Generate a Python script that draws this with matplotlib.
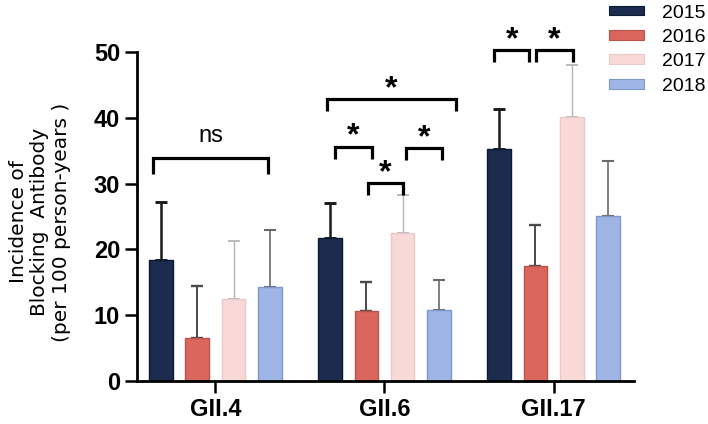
import matplotlib
matplotlib.use("Agg")
import matplotlib.pyplot as plt
from matplotlib.patches import Patch
import numpy as np

# ---- data ----
groups = ["GII.4", "GII.6", "GII.17"]
years = ["2015", "2016", "2017", "2018"]
means = {
    "2015": [18.4, 21.7, 35.3],
    "2016": [6.5, 10.6, 17.5],
    "2017": [12.4, 22.5, 40.1],
    "2018": [14.3, 10.8, 25.1],
}
upper = {  # top of error bar
    "2015": [27.2, 27.0, 41.3],
    "2016": [14.4, 15.0, 23.7],
    "2017": [21.2, 28.3, 48.0],
    "2018": [22.9, 15.4, 33.4],
}
# brackets: (group, bar_i, bar_j, height, label)
brackets = [
    (0, 0, 3, 33.9, "ns"),
    (1, 0, 3, 42.8, "*"),
    (1, 0, 1, 35.6, "*"),
    (1, 2, 3, 35.4, "*"),
    (1, 1, 2, 30.1, "*"),
    (2, 0, 1, 50.3, "*"),
    (2, 1, 2, 50.3, "*"),
]
# small horizontal end adjustments of brackets (data units)
bracket_adj = [(-0.047, -0.012), (-0.019, 0.097), (0.03, 0.032), (0.017, 0.019),
               (0.009, 0.003), (-0.029, -0.035), (0.003, 0.006)]

colors = {"2015": "#1b2c4e", "2016": "#da665d", "2017": "#f9d8d8", "2018": "#9eb5e5"}
edges = {"2015": "#0e1a33", "2016": "#b9534c", "2017": "#e9c9c9", "2018": "#7f97c9"}
errc = {"2015": "#1a1a1a", "2016": "#4a4a4a", "2017": "#b5b5b5", "2018": "#6a6a6a"}
errw = {"2015": 1.8, "2016": 1.4, "2017": 1.0, "2018": 1.2}

fig = plt.figure(figsize=(7.08, 4.24), dpi=100)
ax = fig.add_axes([0.1935, 0.1021, 0.702, 0.775])

x = np.arange(len(groups))
pitch = 0.2154
width = 0.139
offsets = (np.arange(4) - 1.5) * pitch

for k, yr in enumerate(years):
    m = np.array(means[yr])
    up = np.array(upper[yr]) - m
    ax.bar(x + offsets[k], m, width, color=colors[yr], edgecolor=edges[yr],
           linewidth=1.0, zorder=2)
    ax.errorbar(x + offsets[k], m, yerr=[np.zeros_like(m), up], fmt="none",
                ecolor=errc[yr], elinewidth=errw[yr], capsize=4.3,
                capthick=errw[yr] + 0.3, zorder=1)

# significance brackets
for (g, i, j, h, lab), (al, ar) in zip(brackets, bracket_adj):
    x1 = g + offsets[i] + al
    x2 = g + offsets[j] + ar
    leg = 1.8 if lab == "*" else 2.4
    ax.plot([x1, x1, x2, x2], [h - leg, h, h, h - leg], color="black", lw=2.3,
            solid_capstyle="butt", solid_joinstyle="miter", clip_on=False, zorder=3)
    xm = (x1 + x2) / 2
    if lab == "ns":
        ax.annotate(lab, (xm, h), xytext=(0, 11.5), textcoords="offset points",
                    ha="center", va="baseline", fontsize=17,
                    family="Liberation Sans", annotation_clip=False)
    else:
        ax.annotate(lab, (xm, h), xytext=(0, 1.5), textcoords="offset points",
                    ha="center", va="baseline", fontsize=23, fontweight="bold",
                    family="Liberation Sans", annotation_clip=False)

ax.set_xlim(-0.464, 2.476)
ax.set_ylim(0, 50)
ax.set_yticks([0, 10, 20, 30, 40, 50])
ax.set_xticks(x)
ax.set_xticklabels(groups)
for s in ["top", "right"]:
    ax.spines[s].set_visible(False)
for s in ["left", "bottom"]:
    ax.spines[s].set_linewidth(2.0)
ax.tick_params(axis="both", length=8.5, width=1.8, direction="out")
ax.tick_params(axis="y", pad=3.6)
ax.tick_params(axis="x", pad=4)
for lbl in ax.get_xticklabels() + ax.get_yticklabels():
    lbl.set_fontfamily("Liberation Sans")
    lbl.set_fontweight("bold")
    lbl.set_fontsize(17)

fig.text(40 / 708, 1 - 222 / 424,
         "Incidence of\nBlocking  Antibody\n(per 100 person-years )",
         rotation=90, ha="center", va="center", multialignment="center",
         fontsize=14.5, family="DejaVu Sans", linespacing=1.15)

handles = [Patch(facecolor=colors[y], edgecolor=edges[y], linewidth=0.8) for y in years]
fig.legend(handles, years, loc="upper left", bbox_to_anchor=(609 / 708, 1.0 - 4.5 / 424),
           frameon=False, prop={"family": "Liberation Sans", "size": 14},
           handlelength=1.8, handleheight=0.4, handletextpad=0.93,
           labelspacing=0.38, borderpad=0.0, borderaxespad=0.0)

fig.savefig("out.png", dpi=100)
